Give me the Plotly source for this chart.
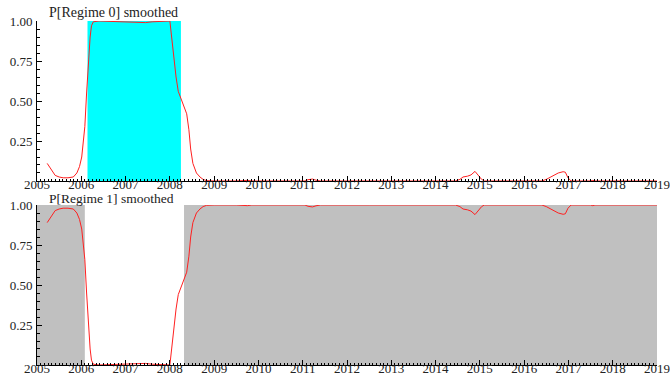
import plotly.graph_objects as go

# Smoothed regime probabilities (decimal years)
dates = [
    2005.23, 2005.32, 2005.41, 2005.50, 2005.59, 2005.70, 2005.82, 2005.90, 2005.96,
    2006.01, 2006.05, 2006.08, 2006.12, 2006.16, 2006.20, 2006.23, 2006.27, 2006.40,
    2006.60, 2006.80, 2007.00, 2007.15, 2007.30, 2007.45, 2007.60, 2007.75, 2007.85,
    2007.92, 2008.00, 2008.04, 2008.08, 2008.14, 2008.19, 2008.27, 2008.38, 2008.43,
    2008.47, 2008.52, 2008.60, 2008.68, 2008.75, 2008.83, 2009.00, 2009.50, 2009.75,
    2009.85, 2010.50, 2011.05, 2011.12, 2011.22, 2011.30, 2011.40, 2012.50, 2014.45,
    2014.55, 2014.62, 2014.72, 2014.80, 2014.89, 2014.96, 2015.04, 2015.10, 2015.60,
    2015.65, 2015.70, 2016.40, 2016.50, 2016.58, 2016.65, 2016.77, 2016.88, 2016.93,
    2016.99, 2017.06, 2017.50, 2017.55, 2017.60, 2019.00,
]

p_regime0 = [
    0.11, 0.07, 0.035, 0.025, 0.02, 0.02, 0.025, 0.05, 0.09,
    0.15, 0.25, 0.34, 0.55, 0.74, 0.90, 0.97, 0.995, 1.0,
    0.998, 0.997, 0.997, 0.995, 0.99, 0.99, 0.995, 0.997, 0.995,
    0.998, 1.0, 0.90, 0.78, 0.65, 0.56, 0.50, 0.42, 0.32,
    0.20, 0.11, 0.05, 0.025, 0.01, 0.002, 0.0, 0.0, 0.004,
    0.0, 0.0, 0.0, 0.008, 0.012, 0.005, 0.0, 0.0, 0.0,
    0.01, 0.025, 0.03, 0.038, 0.06, 0.035, 0.01, 0.0, 0.0,
    0.004, 0.0, 0.0, 0.01, 0.022, 0.035, 0.05, 0.058, 0.055,
    0.02, 0.0, 0.0, 0.004, 0.0, 0.0,
]

p_regime1 = [
    0.89, 0.93, 0.965, 0.975, 0.98, 0.98, 0.975, 0.95, 0.91,
    0.85, 0.75, 0.66, 0.45, 0.26, 0.10, 0.03, 0.005, 0.0,
    0.002, 0.003, 0.003, 0.005, 0.01, 0.01, 0.005, 0.003, 0.005,
    0.002, 0.0, 0.10, 0.22, 0.35, 0.44, 0.50, 0.58, 0.68,
    0.80, 0.89, 0.95, 0.975, 0.99, 0.998, 1.0, 1.0, 0.996,
    1.0, 1.0, 1.0, 0.992, 0.988, 0.995, 1.0, 1.0, 1.0,
    0.99, 0.975, 0.97, 0.962, 0.94, 0.965, 0.99, 1.0, 1.0,
    0.996, 1.0, 1.0, 0.99, 0.978, 0.965, 0.95, 0.942, 0.945,
    0.98, 1.0, 1.0, 0.996, 1.0, 1.0,
]

# Periods classified into each regime
regime0_spans = [(2006.14, 2008.25)]
regime1_spans = [(2005.0, 2006.08), (2008.32, 2019.0)]

year_ticks = list(range(2005, 2020))
prob_ticks = [0.25, 0.50, 0.75, 1.00]
titles = ["P[Regime 0] smoothed", "P[Regime 1] smoothed"]

FONT = "Liberation Serif, DejaVu Serif, serif"
TEXT = "#222"

fig = go.Figure()

fig.add_trace(go.Scatter(x=dates, y=p_regime0, mode="lines",
                         line=dict(color="#ff2020", width=1),
                         xaxis="x", yaxis="y", showlegend=False))
fig.add_trace(go.Scatter(x=dates, y=p_regime1, mode="lines",
                         line=dict(color="#ff2020", width=1),
                         xaxis="x2", yaxis="y2", showlegend=False))

shapes = []
for x0, x1 in regime0_spans:
    shapes.append(dict(type="rect", xref="x", yref="y", x0=x0, x1=x1, y0=0, y1=1,
                       fillcolor="#00ffff", line=dict(width=0), layer="below"))
for x0, x1 in regime1_spans:
    shapes.append(dict(type="rect", xref="x2", yref="y2", x0=x0, x1=x1, y0=0, y1=1,
                       fillcolor="#c0c0c0", line=dict(width=0), layer="below"))

xaxis_common = dict(
    range=[2005, 2019], tickmode="array", tickvals=year_ticks,
    ticktext=[str(y) for y in year_ticks],
    showline=True, linecolor="black", linewidth=1,
    ticks="inside", ticklen=5, tickcolor="black",
    minor=dict(ticks="inside", ticklen=2, dtick=1 / 12, tickcolor="black"),
    showgrid=False, zeroline=False, automargin=False,
    ticklabelstandoff=-9,
    tickfont=dict(family=FONT, size=13, color=TEXT),
)
yaxis_common = dict(
    range=[0, 1], tickmode="array", tickvals=prob_ticks,
    ticktext=["%.2f" % v for v in prob_ticks],
    showline=True, linecolor="black", linewidth=1,
    ticks="inside", ticklen=5, tickcolor="black",
    minor=dict(ticks="inside", ticklen=3, dtick=0.05, tickcolor="black"),
    showgrid=False, zeroline=False, automargin=False,
    ticklabelstandoff=1,
    tickfont=dict(family=FONT, size=13, color=TEXT),
)

annotations = [
    dict(text=titles[0], xref="x domain", yref="y domain", x=0.018, y=1.0,
         xanchor="left", yanchor="bottom", showarrow=False, borderpad=0,
         font=dict(family=FONT, size=14, color=TEXT)),
    dict(text=titles[1], xref="x2 domain", yref="y2 domain", x=0.018, y=1.0,
         xanchor="left", yanchor="bottom", showarrow=False, borderpad=0,
         yshift=-2, font=dict(family=FONT, size=13.5, color=TEXT)),
]

fig.update_layout(
    width=670, height=385,
    margin=dict(l=37, r=13, t=21, b=20, autoexpand=False),
    paper_bgcolor="white", plot_bgcolor="white",
    font=dict(family=FONT, color=TEXT),
    xaxis=dict(domain=[0, 1], anchor="y", **xaxis_common),
    yaxis=dict(domain=[0.5349, 1.0], anchor="x", **yaxis_common),
    xaxis2=dict(domain=[0, 1], anchor="y2", **xaxis_common),
    yaxis2=dict(domain=[0.0, 0.4651], anchor="x2", **yaxis_common),
    shapes=shapes,
    annotations=annotations,
    showlegend=False,
)

fig.write_html("out.html")
